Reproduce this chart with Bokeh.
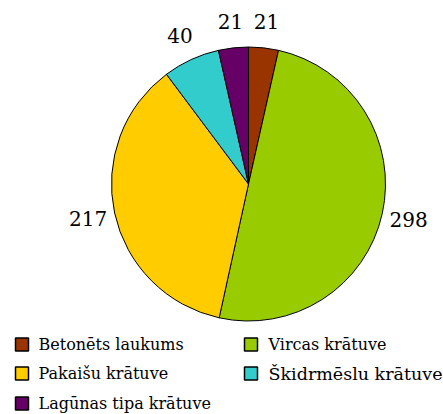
import numpy as np
from bokeh.plotting import figure
from bokeh.models import Range1d, ColumnDataSource
from bokeh.core.properties import value
from bokeh.embed import file_html
from bokeh.resources import INLINE

categories = ["Betonēts laukums", "Vircas krātuve", "Pakaišu  krātuve",
              "Škidrmēslu krātuve", "Lagūnas tipa krātuve"]
values = [21, 298, 217, 40, 21]
colors = ["#993300", "#99CC00", "#FFCC00", "#33CCCC", "#660066"]
legend_cols = [0, 1, 0, 1, 0]
legend_rows = [0, 0, 1, 1, 2]
legend_sizes = ["16px", "16px", "16px", "17.5px", "16px"]

FONT = value("DejaVu Serif")
W, H = 443, 414
p = figure(width=W, height=H, output_backend="svg", toolbar_location=None,
           x_range=Range1d(0, W), y_range=Range1d(0, H), min_border=0)
p.axis.visible = False
p.grid.visible = False
p.outline_line_color = None
p.background_fill_color = "white"

cx, cy, r = 248, H - 183.5, 137
vals = np.array(values, dtype=float)
cum = np.concatenate([[0], np.cumsum(vals)]) / vals.sum() * 2 * np.pi
start = np.pi / 2 - cum[:-1]
end = np.pi / 2 - cum[1:]
mid = np.pi / 2 - (cum[:-1] + cum[1:]) / 2

src = ColumnDataSource(dict(start=start, end=end, color=colors))
p.wedge(x=cx, y=cy, radius=r, start_angle="start", end_angle="end",
        direction="clock", fill_color="color",
        line_color="black", line_width=1, source=src)

lr = 164
lab = ColumnDataSource(dict(x=cx + lr * np.cos(mid), y=cy + lr * np.sin(mid),
                            t=[str(v) for v in values]))
p.text(x="x", y="y", text="t", source=lab, text_align="center",
       text_baseline="middle", text_font=FONT,
       text_font_size="20px", text_color="black")

# legend
col_x_box = [21.5, 250.5]
col_x_txt = [38, 268]
row_y = [344, 373, 403]
lx_box = [col_x_box[c] for c in legend_cols]
lx_txt = [col_x_txt[c] for c in legend_cols]
ly = [H - row_y[rw] for rw in legend_rows]
leg = ColumnDataSource(dict(xb=lx_box, xt=lx_txt, y=ly, color=colors,
                            t=categories, fs=legend_sizes))
p.rect(x="xb", y="y", width=13, height=13, fill_color="color",
       line_color="black", line_width=1.5, source=leg)
p.text(x="xt", y="y", text="t", text_font_size="fs", source=leg,
       text_align="left", text_baseline="middle",
       text_font=FONT, text_color="black")

open("out.html", "w").write(file_html(p, INLINE))
